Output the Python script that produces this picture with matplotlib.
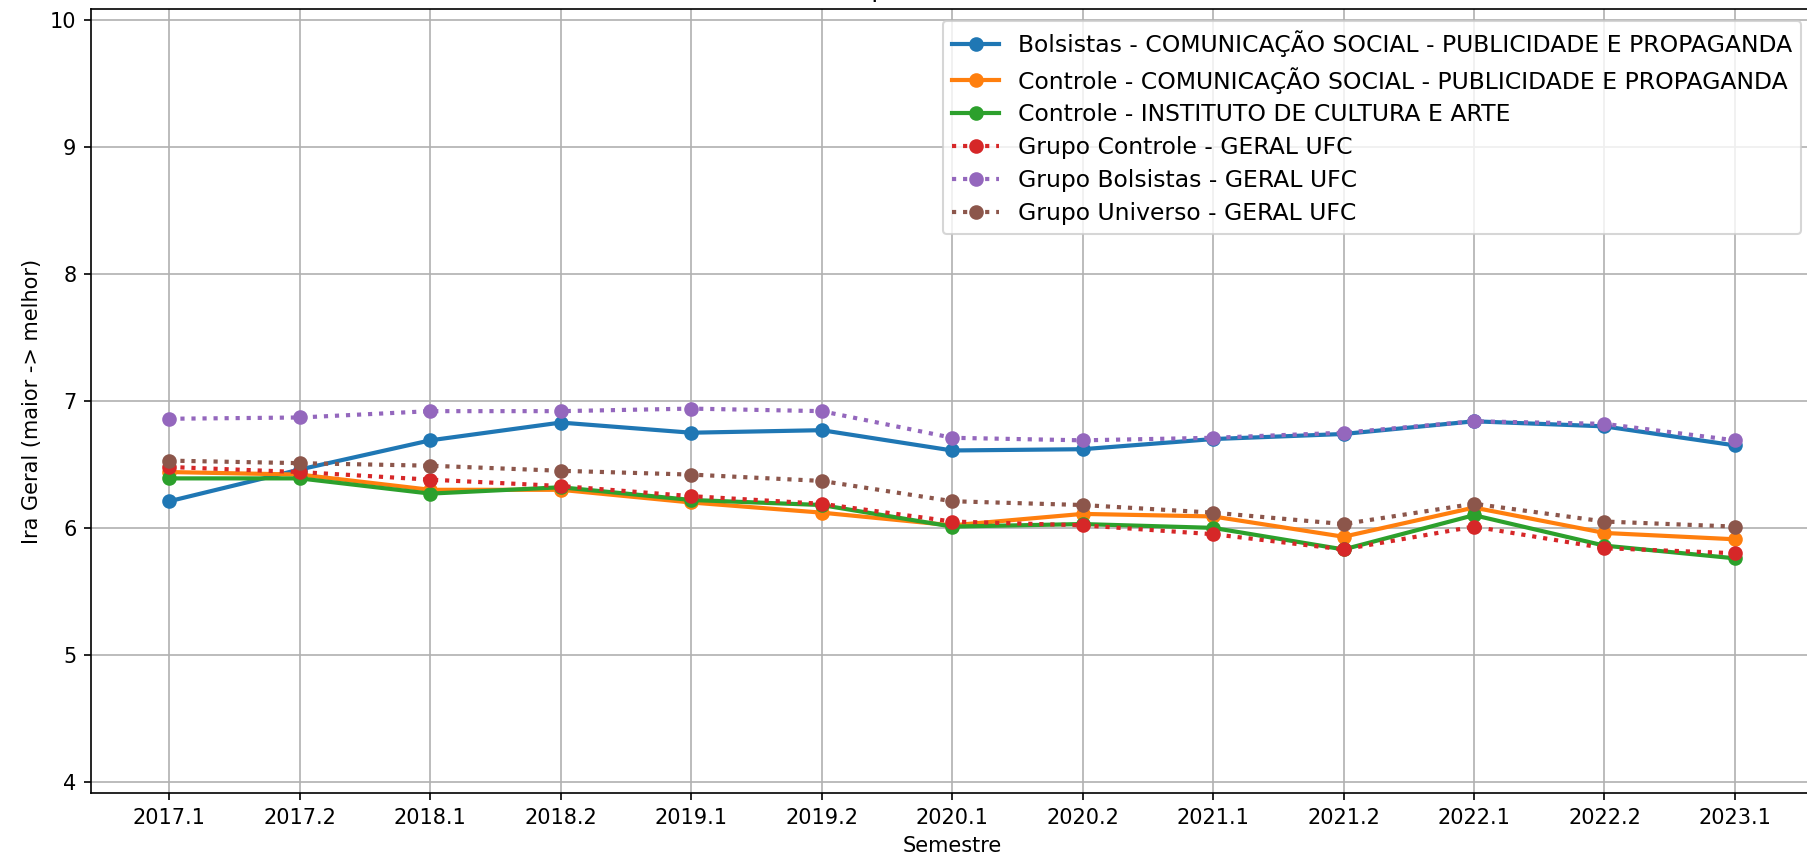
import matplotlib
matplotlib.use("Agg")
import matplotlib.pyplot as plt

semestres = ['2017.1', '2017.2', '2018.1', '2018.2', '2019.1', '2019.2', '2020.1',
             '2020.2', '2021.1', '2021.2', '2022.1', '2022.2', '2023.1']

bolsistas_pp = [6.21, 6.46, 6.69, 6.83, 6.75, 6.77, 6.61, 6.62, 6.70, 6.74, 6.84, 6.80, 6.65]
controle_pp = [6.44, 6.42, 6.30, 6.30, 6.20, 6.12, 6.02, 6.11, 6.09, 5.93, 6.16, 5.96, 5.91]
controle_ica = [6.39, 6.39, 6.27, 6.32, 6.22, 6.18, 6.01, 6.03, 6.00, 5.83, 6.10, 5.86, 5.76]
grupo_controle = [6.48, 6.44, 6.38, 6.33, 6.25, 6.19, 6.05, 6.02, 5.95, 5.83, 6.01, 5.84, 5.80]
grupo_bolsistas = [6.86, 6.87, 6.92, 6.92, 6.94, 6.92, 6.71, 6.69, 6.71, 6.75, 6.84, 6.82, 6.69]
grupo_universo = [6.53, 6.51, 6.49, 6.45, 6.42, 6.37, 6.21, 6.18, 6.12, 6.03, 6.19, 6.05, 6.01]

fig = plt.figure(figsize=(12.047, 5.727), dpi=150)
# the original picture is cropped: title above and right spine beyond the edge
ax = fig.add_axes([0.0504, 0.0768, 0.953, 0.9127])

ax.plot(semestres, bolsistas_pp, '-o', lw=2, label='Bolsistas - COMUNICAÇÃO SOCIAL - PUBLICIDADE E PROPAGANDA')
ax.plot(semestres, controle_pp, '-o', lw=2, label='Controle - COMUNICAÇÃO SOCIAL - PUBLICIDADE E PROPAGANDA')
ax.plot(semestres, controle_ica, '-o', lw=2, label='Controle - INSTITUTO DE CULTURA E ARTE')
ax.plot(semestres, grupo_controle, ':o', lw=2, label='Grupo Controle - GERAL UFC')
ax.plot(semestres, grupo_bolsistas, ':o', lw=2, label='Grupo Bolsistas - GERAL UFC')
ax.plot(semestres, grupo_universo, ':o', lw=2, label='Grupo Universo - GERAL UFC')

ax.set_title("Ira Geral por Semestre - Cursos")
ax.set_xlabel("Semestre")
ax.set_ylabel("Ira Geral (maior -> melhor)")
ax.set_ylim(3.91, 10.09)
ax.set_xlim(-0.6, 12.6)
ax.legend(loc="upper right", fontsize=11.27, labelspacing=0.42)
ax.grid(True)

fig.savefig("out.png", dpi=150)
